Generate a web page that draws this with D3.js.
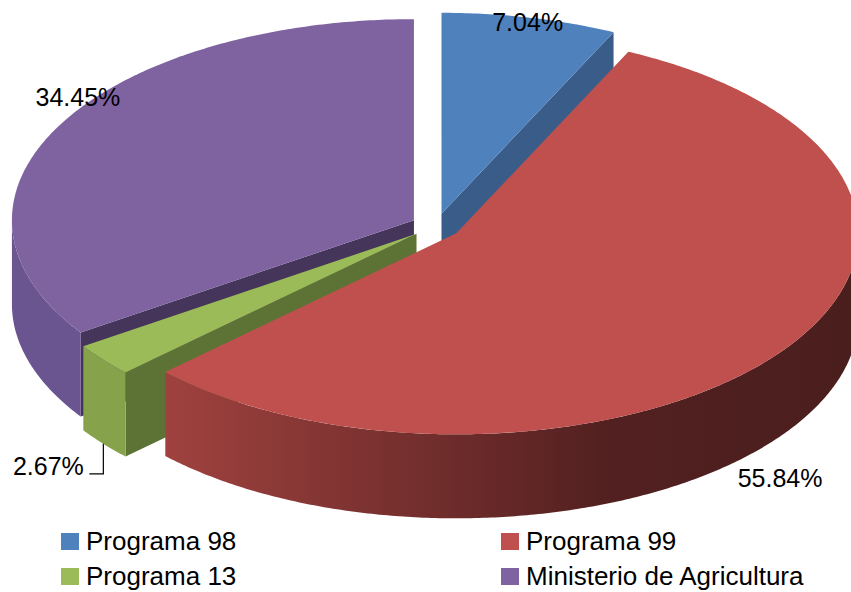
<!DOCTYPE html>
<html lang="es">
<head>
<meta charset="UTF-8">
<title>Distribución por programa</title>
<script src="https://d3js.org/d3.v7.min.js"></script>
<style>
  * { margin: 0; padding: 0; box-sizing: border-box; }
  body { background: #fff; font-family: "Liberation Sans", Arial, sans-serif; }
</style>
</head>
<body>
<div id="chart"></div>
<script>
// data
const categories = ["Programa 98", "Programa 99", "Programa 13", "Ministerio de Agricultura"];
const shares = [7.04, 55.84, 2.67, 34.45];
const labels = ["7.04%", "55.84%", "2.67%", "34.45%"];

// styling per slice: top, side wall, radial face
const topColors  = ["#4f81bd", "#c0504d", "#9bbb59", "#7f63a1"];
const wallColors = ["#3a5d8a", "url(#redWall)", "#86a34b", "#6b5591"];
const faceColors = ["#395c89", "#7a2f2d", "#5d7335", "#45355b"];
// label offsets from the mid-angle rim point (baseline)
const labelOffsets = [[-2, 13], [-2, 136], [-55, 115], [19, -20]];
const drawOrder = [0, 3, 2, 1];

const width = 851, height = 592;
const cx = 436, cy = 226, rx = 402, ry = 201, depth = 84, explode = 25;

const svg = d3.select("#chart").append("svg")
    .attr("width", width)
    .attr("height", height);

const defs = svg.append("defs");
const grad = defs.append("linearGradient")
    .attr("id", "redWall")
    .attr("gradientUnits", "userSpaceOnUse")
    .attr("x1", 162).attr("x2", 850).attr("y1", 0).attr("y2", 0);
grad.append("stop").attr("offset", 0).attr("stop-color", "#a0423f");
grad.append("stop").attr("offset", 0.65).attr("stop-color", "#522020");
grad.append("stop").attr("offset", 1).attr("stop-color", "#4b1e1e");

const pie = d3.pie().sort(null).value(d => d);
const arcs = pie(shares);

function centerOf(a) {
    const mid = (a.startAngle + a.endAngle) / 2;
    return [cx + explode * Math.sin(mid), cy - explode * (ry / rx) * Math.cos(mid)];
}
function rim(c, ang, dz) {
    return [c[0] + rx * Math.sin(ang), c[1] - ry * Math.cos(ang) + (dz || 0)];
}
function arcPoints(c, a0, a1, dz) {
    const n = Math.max(2, Math.ceil((a1 - a0) / 0.01));
    return d3.range(n + 1).map(i => rim(c, a0 + (a1 - a0) * i / n, dz));
}
const line = d3.line();

const g = svg.append("g");

drawOrder.forEach(i => {
    const a = arcs[i];
    const c = centerOf(a);

    // radial faces that turn towards the viewer
    [[a.startAngle, a.startAngle - Math.PI / 2], [a.endAngle, a.endAngle + Math.PI / 2]].forEach(([ang, n]) => {
        if (-Math.cos(n) > 0.001) {
            const p = rim(c, ang), q = rim(c, ang, depth);
            g.append("path")
                .attr("d", line([c, p, q, [c[0], c[1] + depth]]) + "Z")
                .attr("fill", faceColors[i]);
        }
    });

    // outer wall, front half only
    const s = Math.max(a.startAngle, Math.PI / 2), e = Math.min(a.endAngle, 3 * Math.PI / 2);
    if (e > s) {
        const pts = arcPoints(c, s, e, 0).concat(arcPoints(c, s, e, depth).reverse());
        g.append("path")
            .attr("d", line(pts) + "Z")
            .attr("fill", i === 1 ? wallColors[i] : wallColors[i]);
    }

    // top face
    g.append("path")
        .attr("d", line([c].concat(arcPoints(c, a.startAngle, a.endAngle, 0))) + "Z")
        .attr("fill", topColors[i]);
});

// data labels
arcs.forEach((a, i) => {
    const c = centerOf(a);
    const mid = (a.startAngle + a.endAngle) / 2;
    const p = rim(c, mid);
    const tx = p[0] + labelOffsets[i][0], ty = p[1] + labelOffsets[i][1];
    svg.append("text")
        .attr("x", tx)
        .attr("y", ty)
        .attr("text-anchor", "middle")
        .attr("font-size", "25px")
        .attr("fill", "#000")
        .text(labels[i]);
    if (i === 2) {
        // leader line for the small slice
        const b = [p[0], p[1] + depth];
        svg.append("path")
            .attr("d", line([b, [b[0], ty - 1], [tx + 41, ty - 1]]))
            .attr("fill", "none")
            .attr("stroke", "#000")
            .attr("stroke-width", 1.2);
    }
});

// legend
const legendX = [61, 501], legendY = [533, 568];
categories.forEach((name, i) => {
    const lx = legendX[i % 2], ly = legendY[Math.floor(i / 2)];
    svg.append("rect")
        .attr("x", lx).attr("y", ly)
        .attr("width", 18).attr("height", 17)
        .attr("fill", topColors[i]);
    svg.append("text")
        .attr("x", lx + 25)
        .attr("y", ly + 17)
        .attr("font-size", "26px")
        .attr("fill", "#000")
        .text(name);
});
</script>
</body>
</html>
